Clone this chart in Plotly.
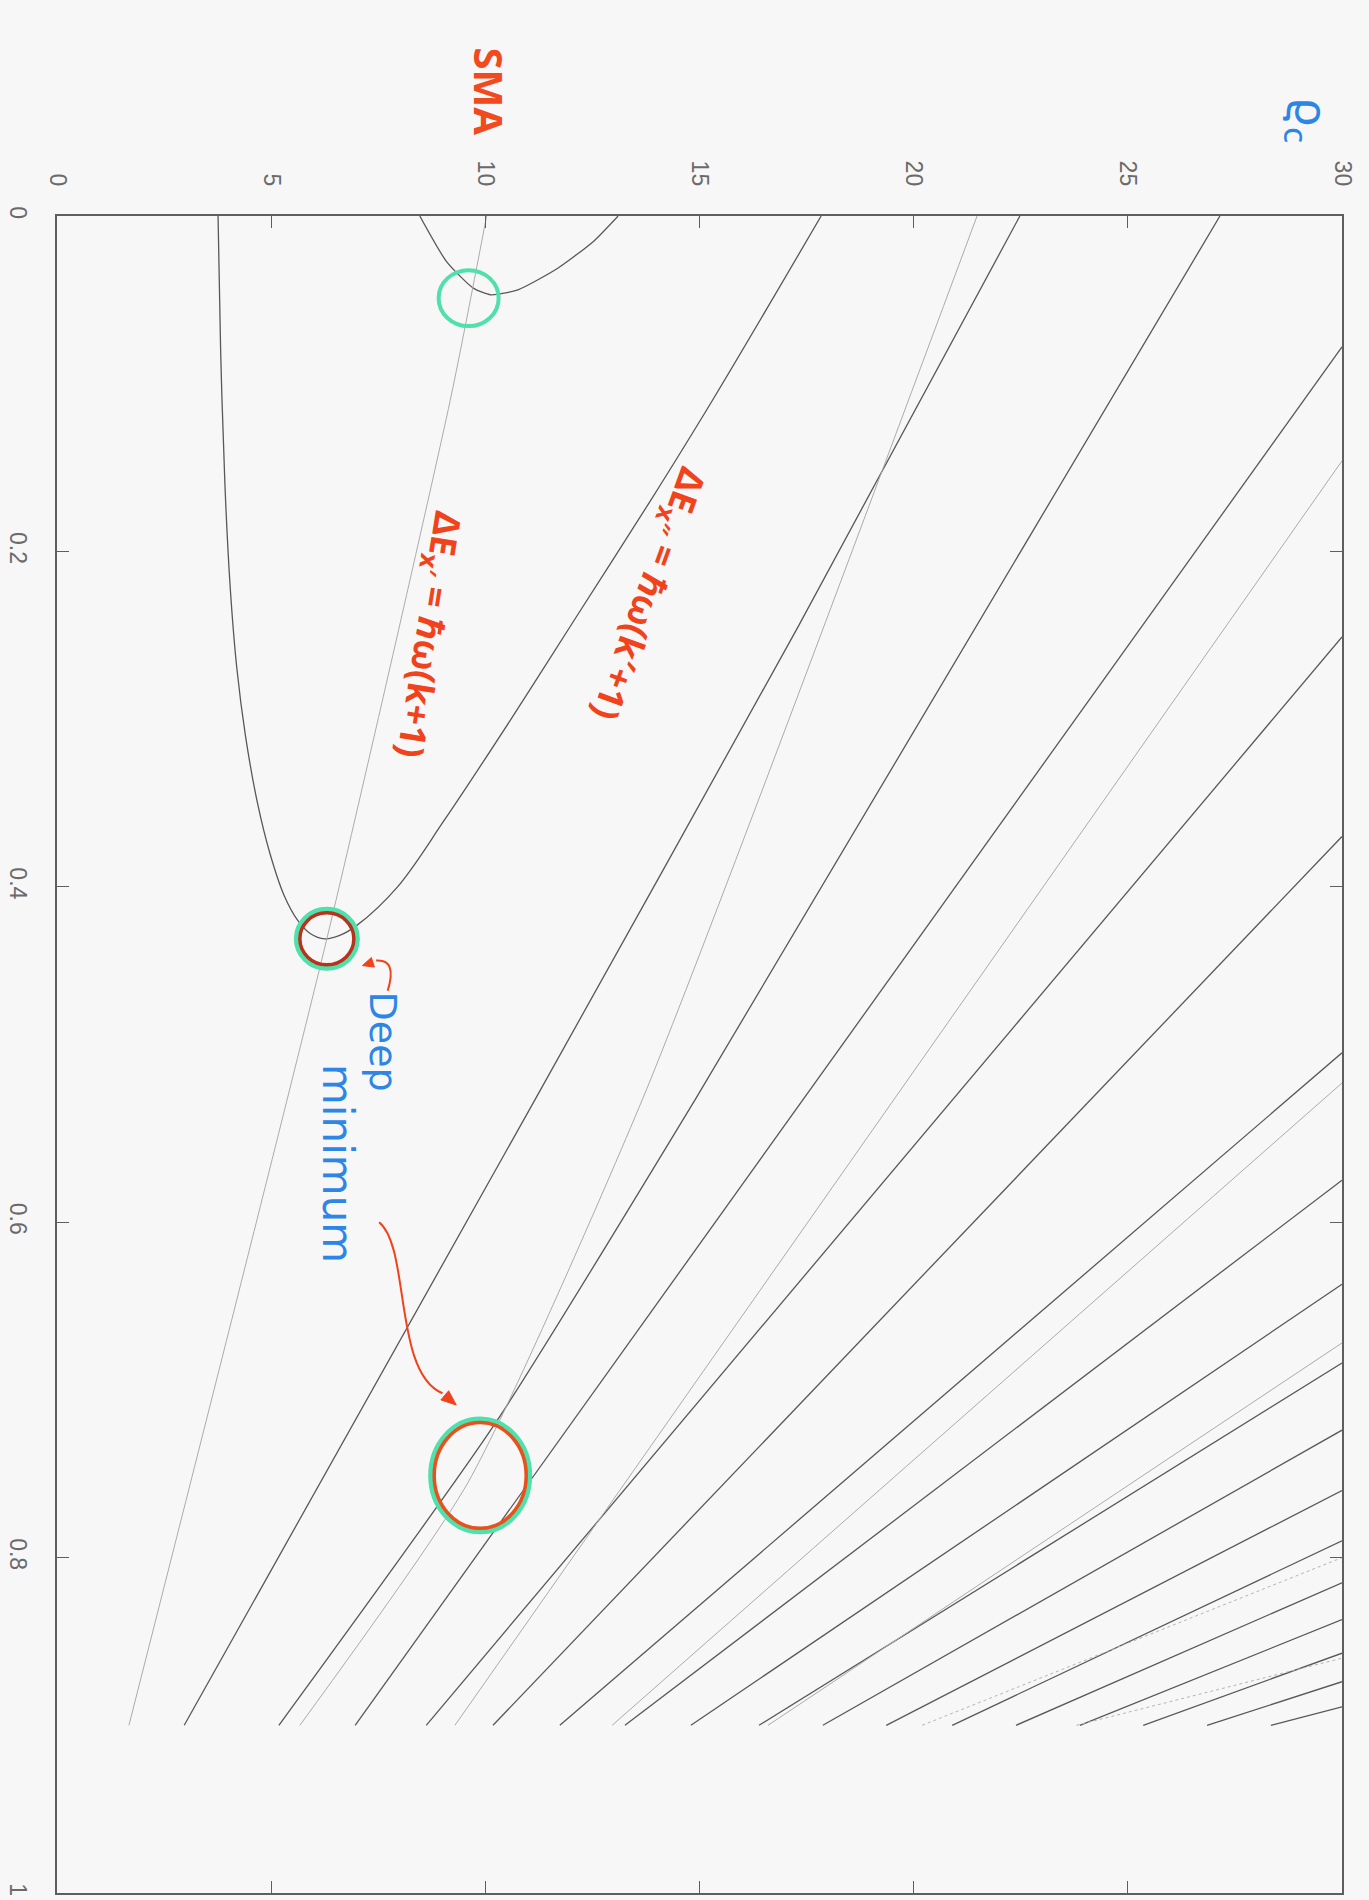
import math
import plotly.graph_objects as go

# ---- data: curves as (t, SMA) samples, t runs 0..0.9 down the page ----
T_END = 0.9

# wide "SMA" trough (left branch, rounded minimum, right branch)
big_u_t = [0.0, 0.08, 0.16, 0.22, 0.27, 0.31, 0.35, 0.38, 0.405, 0.42, 0.428, 0.431, 0.429, 0.423,
           0.40, 0.36, 0.30, 0.24, 0.17, 0.11, 0.0]
big_u_s = [3.76, 3.82, 3.92, 4.04, 4.2, 4.4, 4.68, 4.97, 5.3, 5.62, 5.92, 6.25, 6.6, 7.0,
           7.95, 9.05, 10.6, 12.1, 13.85, 15.3, 17.84]

# narrow trough near the top
small_u_t = [0.0, 0.027, 0.043, 0.047, 0.044, 0.031, 0.015, 0.0]
small_u_s = [8.47, 9.09, 9.72, 10.13, 10.76, 11.70, 12.53, 13.1]

# dark fan lines: SMA at t = 0.9 and where each one leaves the frame
fan_bottom = [2.97, 5.18, 6.96, 8.62, 10.18, 11.74, 13.26, 14.80, 16.39,
              17.88, 19.36, 20.90, 22.39, 23.88, 25.36, 26.85, 28.34]
fan_top_exit = [22.48, 27.15]                       # SMA where the first two reach t = 0
fan_top_mid_t = [[0.526, 0.245], [0.72, 0.526]]     # intermediate samples of those two
fan_top_mid_s = [[11.18, 17.3], [10.23, 14.92]]
fan_right_exit = [0.078, 0.251, 0.370, 0.499, 0.575, 0.637, 0.684, 0.724,
                  0.760, 0.790, 0.815, 0.837, 0.857, 0.874, 0.889]  # t at SMA = 30

# light lines
light1_t = [0.9, 0.431, 0.11, 0.0]
light1_s = [1.68, 6.30, 9.18, 10.03]
light2_t = [0.9, 0.755, 0.526, 0.0]
light2_s = [5.67, 9.60, 13.68, 21.48]
light_bottom = [9.29, 12.96, 16.6]
light_right_exit = [0.146, 0.517, 0.672]
dotted_bottom = [20.2, 23.8]
dotted_right_exit = [0.80, 0.86]

SMA_MAX = 30
x_ticks = [0, 5, 10, 15, 20, 25, 30]
y_ticks = [0, 0.2, 0.4, 0.6, 0.8, 1]
y_tick_text = ["0", "0.2", "0.4", "0.6", "0.8", "1"]

DARK = dict(color="#585858", width=1.3)
LIGHT = dict(color="#ababab", width=1.0)
DOTTED = dict(color="#b4b4b4", width=1.0, dash="dot")

fig = go.Figure()


def add_curve(s, t, line, smoothing=0.6):
    fig.add_trace(go.Scatter(x=s, y=t, mode="lines",
                             line=dict(shape="spline", smoothing=smoothing, **line),
                             hoverinfo="skip", showlegend=False))


add_curve(big_u_s, big_u_t, DARK, smoothing=1.0)
add_curve(small_u_s, small_u_t, DARK)

for i, b in enumerate(fan_bottom):
    if i < len(fan_top_exit):
        t = [T_END] + fan_top_mid_t[i] + [0.0]
        s = [b] + fan_top_mid_s[i] + [fan_top_exit[i]]
    else:
        t = [T_END, fan_right_exit[i - len(fan_top_exit)]]
        s = [b, SMA_MAX]
    add_curve(s, t, DARK)

add_curve(light1_s, light1_t, LIGHT)
add_curve(light2_s, light2_t, LIGHT)
for b, tr in zip(light_bottom, light_right_exit):
    add_curve([b, SMA_MAX], [T_END, tr], LIGHT)
for b, tr in zip(dotted_bottom, dotted_right_exit):
    add_curve([b, SMA_MAX], [T_END, tr], DOTTED)

# ---- hand-drawn markings ----
PX_PER_S = 1285 / 30   # horizontal pixels per SMA unit
PX_PER_T = 1680        # vertical pixels per unit of t


def ring(cs, ct, rx_px, ry_px, color, width):
    fig.add_shape(type="circle", xref="x", yref="y",
                  x0=cs - rx_px / PX_PER_S, x1=cs + rx_px / PX_PER_S,
                  y0=ct - ry_px / PX_PER_T, y1=ct + ry_px / PX_PER_T,
                  line=dict(color=color, width=width))


def arrow_head(tip_s, tip_t, from_s, from_t, color, length_px=15, half_px=6):
    dx = (tip_s - from_s) * PX_PER_S
    dy = (tip_t - from_t) * PX_PER_T
    n = math.hypot(dx, dy)
    ux, uy = dx / n, dy / n
    bx, by = -ux * length_px, -uy * length_px
    px, py = -uy * half_px, ux * half_px
    p1 = (tip_s + (bx + px) / PX_PER_S, tip_t + (by + py) / PX_PER_T)
    p2 = (tip_s + (bx - px) / PX_PER_S, tip_t + (by - py) / PX_PER_T)
    fig.add_shape(type="path", xref="x", yref="y",
                  path=f"M {tip_s} {tip_t} L {p1[0]} {p1[1]} L {p2[0]} {p2[1]} Z",
                  fillcolor=color, line=dict(color=color, width=1))


MINT = "#4fe0ac"
ring(9.61, 0.049, 30, 28, MINT, 4)
ring(6.30, 0.431, 30, 29, MINT, 6)
ring(6.30, 0.431, 27, 26, "#b8321c", 3.5)
ring(9.88, 0.751, 49, 56, MINT, 6)
ring(9.88, 0.751, 46, 53, "#e8501c", 3.5)

RED = "#f0431c"
# curved arrow towards the lower minimum
fig.add_shape(type="path", xref="x", yref="y",
              path="M 7.52 0.600 C 8.25 0.615, 7.85 0.690, 9.0 0.702",
              line=dict(color=RED, width=2))
arrow_head(9.32, 0.709, 8.95, 0.701, RED)
# small hook pointing at the upper minimum
fig.add_shape(type="path", xref="x", yref="y",
              path="M 7.72 0.462 Q 7.95 0.443, 7.45 0.444",
              line=dict(color=RED, width=2))
arrow_head(7.13, 0.447, 7.5, 0.444, RED, length_px=11, half_px=5)

HAND = "Noto Sans, DejaVu Sans, sans-serif"
BLUE = "#2d86e6"


def note(text, s, t, size, color, angle, bold=False, family=HAND):
    fig.add_annotation(x=s, y=t, xref="x", yref="y", text=f"<b>{text}</b>" if bold else text,
                       showarrow=False, textangle=angle, font=dict(family=family, size=size, color=color))


note("ΔE<sub>x′</sub> = ℏω(k+1)", 8.66, 0.250, 36, RED, 99, bold=True)
note("ΔE<sub>x″</sub> = ℏω(k′+1)", 13.8, 0.225, 36, RED, 110, bold=True)
note("Deep", 7.6, 0.492, 38, BLUE, 90, family="DejaVu Sans")
note("minimum", 6.55, 0.565, 42, BLUE, 90, family="DejaVu Sans")

fig.add_annotation(x=10.1, y=1.0, xref="x", yref="paper", yanchor="middle", yshift=125,
                   text="<b>SMA</b>", showarrow=False, textangle=90,
                   font=dict(family=HAND, size=40, color="#f04a1e"))
fig.add_annotation(x=29.25, y=1.0, xref="x", yref="paper", yanchor="middle", yshift=95,
                   text="ϱ<sub>c</sub>", showarrow=False, textangle=90,
                   font=dict(family=HAND, size=48, color=BLUE))

AXIS = dict(showline=True, linecolor="#5e5e5e", linewidth=1.5, mirror="ticks", ticks="inside",
            ticklen=12, tickcolor="#5e5e5e", tickwidth=1.3, showgrid=False, zeroline=False,
            tickangle=90, tickfont=dict(family="Liberation Sans, Arial, sans-serif", size=23, color="#6a6a6a"))

fig.update_xaxes(range=[0, SMA_MAX], side="top", tickvals=x_ticks, ticklabelstandoff=20, **AXIS)
fig.update_yaxes(range=[1, 0], tickvals=y_ticks, ticktext=y_tick_text, ticklabelstandoff=18, **AXIS)

fig.update_layout(width=1369, height=1900, margin=dict(l=57, r=27, t=216, b=4),
                  paper_bgcolor="#f7f7f7", plot_bgcolor="#f7f7f7", showlegend=False)

fig.write_html("out.html")
